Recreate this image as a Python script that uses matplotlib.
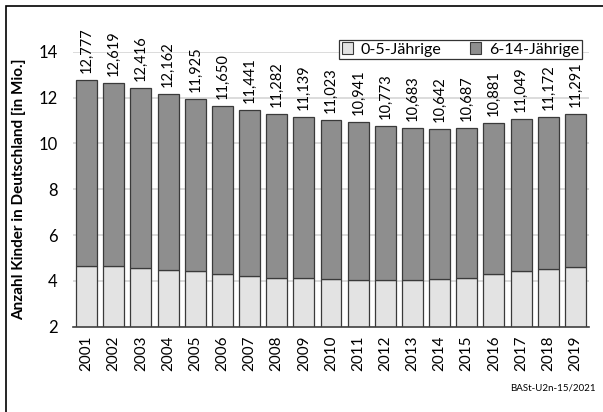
import matplotlib
matplotlib.use("Agg")
import matplotlib.pyplot as plt
from matplotlib.patches import Rectangle, Patch

plt.rcParams['font.family'] = ['Lato', 'DejaVu Sans']

years = [str(y) for y in range(2001, 2020)]
# Gesamtzahl der Kinder (0-14 Jahre) in Mio.
totals = [12.777, 12.619, 12.416, 12.162, 11.925, 11.650, 11.441, 11.282, 11.139,
          11.023, 10.941, 10.773, 10.683, 10.642, 10.687, 10.881, 11.049, 11.172, 11.291]
# davon 0-5-Jährige in Mio.
young = [4.66, 4.64, 4.57, 4.49, 4.42, 4.30, 4.20, 4.14, 4.11,
         4.08, 4.05, 4.04, 4.04, 4.07, 4.14, 4.30, 4.44, 4.53, 4.62]
older = [t - y for t, y in zip(totals, young)]
yticks = [2, 4, 6, 8, 10, 12, 14]

light = '#e3e3e3'
dark = '#8e8e8e'
edge = '#3a3a3a'

fig = plt.figure(figsize=(6.03, 4.12), dpi=100)
fig.patch.set_facecolor('white')

# outer frame
fig.add_artist(Rectangle((6 / 603, -0.05), 1.1, (1 - 6 / 412) + 0.05,
                         transform=fig.transFigure, fill=False,
                         edgecolor='black', linewidth=1.2))

ax = fig.add_axes([73 / 603, 1 - 326.7 / 412, (589 - 73) / 603, (326.7 - 51.7) / 412])
x = range(len(years))
ax.bar(x, young, width=0.77, color=light, edgecolor=edge, linewidth=0.9, zorder=3)
ax.bar(x, older, bottom=young, width=0.77, color=dark, edgecolor=edge, linewidth=0.9, zorder=3)

ax.set_xlim(-0.5, len(years) - 0.5)
ax.set_ylim(2, 14)
ax.set_yticks(yticks)
ax.set_yticklabels([str(v) for v in yticks], fontsize=12)
ax.set_xticks(list(x))
ax.set_xticklabels(years, rotation=90, fontsize=11)
ax.tick_params(axis='both', length=0, pad=6)
ax.tick_params(axis='y', pad=11)
ax.yaxis.grid(True, color='#d9d9d9', linewidth=1.3, zorder=0)
ax.set_axisbelow(True)
for s in ['left', 'right', 'top']:
    ax.spines[s].set_visible(False)
ax.spines['bottom'].set_color('#404040')
ax.spines['bottom'].set_linewidth(1.2)
ax.spines['bottom'].set_zorder(4)

for i, t in enumerate(totals):
    ax.annotate(f'{t:.3f}'.replace('.', ','), (i, t), xytext=(0, 5),
                textcoords='offset points', rotation=90, ha='center', va='bottom',
                fontsize=10.5, annotation_clip=False)

ax.set_ylabel('Anzahl Kinder in Deutschland [in Mio.]', fontsize=11, fontweight='bold',
              labelpad=9)

handles = [Patch(facecolor=light, edgecolor=edge, linewidth=0.8, label='0-5-Jährige'),
           Patch(facecolor=dark, edgecolor=edge, linewidth=0.8, label='6-14-Jährige')]
leg = fig.legend(handles=handles, loc='upper right', bbox_to_anchor=(582 / 603, 1 - 40 / 412),
                 ncol=2, fontsize=11.5, frameon=True, fancybox=False, framealpha=1,
                 edgecolor='#333333', handlelength=0.7, handleheight=0.7,
                 handletextpad=0.5, columnspacing=1.8, borderpad=0.15, borderaxespad=0)
leg.get_frame().set_linewidth(0.9)

fig.text(596 / 603, 1 - 388 / 412, 'BASt-U2n-15/2021', ha='right', va='center',
         fontsize=7)

fig.savefig('out.png', dpi=100)
